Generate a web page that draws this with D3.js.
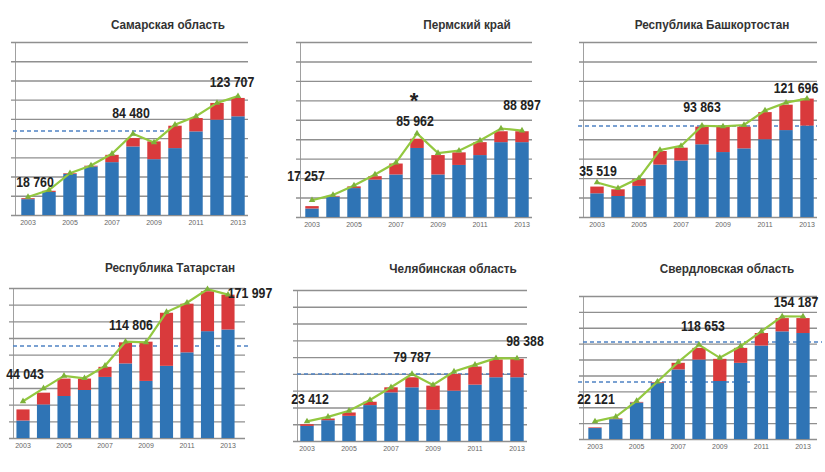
<!DOCTYPE html>
<html>
<head>
<meta charset="utf-8">
<script src="https://cdn.jsdelivr.net/npm/d3@7"></script>
<style>
  body { margin: 0; background: #fff; }
  svg { display: block; }
  text { font-family: "Liberation Sans Narrow", "Arial Narrow", "Liberation Sans", sans-serif; }
</style>
</head>
<body>
<div id="chart"></div>
<script>
// years on the x axis, every other one is labelled
var years = [2003, 2004, 2005, 2006, 2007, 2008, 2009, 2010, 2011, 2012, 2013];
var yearLabels = [2003, 2005, 2007, 2009, 2011, 2013];
var yMax = 180000, yStep = 20000;

var samaraBlue = [16500, 24000, 42800, 50500, 55000, 71300, 58100, 69600, 87000, 99200, 102700];
var samaraRed  = [1000, 1200, 700, 800, 7600, 8700, 18500, 23300, 13900, 17400, 19100];
var samaraLine = [18760, 26000, 43500, 51500, 63700, 84480, 75500, 94000, 102700, 116600, 123707];
var samaraDash = [87400];

var permBlue = [8750, 21000, 29750, 38500, 43750, 71000, 43750, 53550, 63700, 77000, 77000];
var permRed  = [2450, 700, 1750, 3500, 11250, 9500, 19950, 12950, 13300, 11200, 11200];
var permLine = [17257, 22750, 32500, 43750, 56000, 85962, 65800, 68250, 78750, 91000, 88897];
var permDash = [];

var bashBlue = [24400, 21600, 32000, 53900, 58100, 74800, 66800, 70600, 80000, 89400, 94000];
var bashRed  = [6900, 6900, 7000, 14000, 13200, 18100, 26100, 22300, 27900, 26100, 27800];
var bashLine = [35519, 29600, 40000, 68900, 73100, 93863, 93200, 94600, 109600, 117600, 121696];
var bashDash = [93600];

var tatBlue = [21000, 40300, 50400, 57600, 73300, 89500, 68500, 86600, 102800, 128200, 130200];
var tatRed  = [13300, 14100, 20900, 13700, 12100, 25300, 47100, 63700, 58400, 47900, 41800];
var tatLine = [44043, 59600, 74600, 71700, 86600, 115600, 114806, 151100, 162400, 178500, 171997];
var tatDash = [110400];

var chelBlue = [18000, 24800, 30000, 42800, 58000, 64000, 37200, 60000, 67200, 76000, 76000];
var chelRed  = [2000, 2000, 4000, 4000, 6000, 12000, 28800, 20000, 21600, 21200, 22000];
var chelLine = [23412, 28800, 36000, 48800, 64000, 79787, 66800, 82800, 90800, 98800, 98388];
var chelDash = [79900];

var sverBlue = [13800, 25000, 45900, 70900, 87600, 100000, 73000, 95900, 117600, 135500, 133400];
var sverRed  = [800, 900, 800, 800, 8300, 14700, 27900, 18800, 15800, 16700, 18800];
var sverLine = [22121, 27900, 48000, 72100, 96700, 118653, 102200, 116800, 135500, 154300, 154187];
var sverDash = [122100, 71700];

var fmt = d3.formatLocale({decimal: ",", thousands: " ", grouping: [3], currency: ["", ""]}).format(",d");

// layout of the six panels: grid extent, bar centres, title and label placement
var panels = [
  {title: "Самарская область", blue: samaraBlue, red: samaraRed, line: samaraLine, dash: samaraDash,
   gx: [15, 248], c: [28, 238], top: 42, bottom: 215, tx: 168, ty: 29,
   dashX: [[13, 178]], labels: [[0, 7, -10], [5, -2, -16], [10, -6, -9]]},
  {title: "Пермский край", blue: permBlue, red: permRed, line: permLine, dash: permDash,
   gx: [300, 532], c: [312, 522], top: 42, bottom: 217, tx: 467, ty: 29,
   dashX: [], labels: [[0, -6, -19], [5, -2, -7], [10, 0, -21]], star: 5},
  {title: "Республика Башкортостан", blue: bashBlue, red: bashRed, line: bashLine, dash: bashDash,
   gx: [583, 817], c: [597, 807], top: 42, bottom: 217, tx: 712, ty: 29,
   dashX: [[578, 817]], labels: [[0, 1, -6], [5, 0, -14], [10, -11, -6]]},
  {title: "Республика Татарстан", blue: tatBlue, red: tatRed, line: tatLine, dash: tatDash,
   gx: [13, 245], c: [23, 228], top: 288, bottom: 438, tx: 170, ty: 272,
   dashX: [[13, 250]], labels: [[0, 2, -22], [6, -15, -12], [10, 22, 3]]},
  {title: "Челябинская область", blue: chelBlue, red: chelRed, line: chelLine, dash: chelDash,
   gx: [297, 527], c: [307, 517], top: 290, bottom: 441, tx: 453, ty: 273,
   dashX: [[297, 527]], labels: [[0, 3, -17], [5, 0, -12], [10, 8, -12]]},
  {title: "Свердловская область", blue: sverBlue, red: sverRed, line: sverLine, dash: sverDash,
   gx: [583, 817], c: [595, 803], top: 296, bottom: 439, tx: 727, ty: 273,
   dashX: [[583, 822], [578, 753]], labels: [[0, 1, -17], [5, 4, -14], [10, -7, -10]]}
];

// narrow the text a little, the original uses a condensed face
var squeeze = function(sel, k) {
  sel.each(function() {
    var w = this.getComputedTextLength();
    d3.select(this).attr("textLength", w * k).attr("lengthAdjust", "spacingAndGlyphs");
  });
};

var svg = d3.select("#chart").append("svg")
  .attr("width", 825).attr("height", 472);

panels.forEach(function(p) {
  var n = years.length;
  var step = (p.c[1] - p.c[0]) / (n - 1);
  var x = d3.scaleBand()
    .domain(years)
    .range([p.c[0] - step / 2, p.c[1] + step / 2])
    .paddingInner(0.36)
    .paddingOuter(0.18);
  var y = d3.scaleLinear().domain([0, yMax]).range([p.bottom, p.top]);

  var g = svg.append("g");

  // gridlines + left axis
  var yAxis = d3.axisLeft(y)
    .tickValues(d3.range(0, yMax + 1, yStep))
    .tickSize(-(p.gx[1] - p.gx[0]))
    .tickFormat("");
  var ga = g.append("g")
    .attr("transform", "translate(" + p.gx[0] + ",0)")
    .call(yAxis);
  ga.select(".domain").attr("stroke", "#a0a0a0").attr("stroke-width", 1);
  ga.selectAll(".tick line")
    .attr("stroke", "#8f8f8f")
    .attr("stroke-width", 1.4)
    .attr("x1", -4);

  // dashed reference lines
  p.dash.forEach(function(v, i) {
    g.append("line")
      .attr("x1", p.dashX[i][0]).attr("x2", p.dashX[i][1])
      .attr("y1", y(v)).attr("y2", y(v))
      .attr("stroke", "#4f83c4")
      .attr("stroke-width", 1.5)
      .attr("stroke-dasharray", "4,3");
  });

  // stacked bars
  var rows = years.map(function(yr, i) {
    return {year: yr, blue: p.blue[i], red: p.red[i], line: p.line[i]};
  });
  g.selectAll("rect.blue").data(rows).enter().append("rect")
    .attr("class", "blue")
    .attr("x", function(d) { return x(d.year); })
    .attr("width", x.bandwidth())
    .attr("y", function(d) { return y(d.blue); })
    .attr("height", function(d) { return y(0) - y(d.blue); })
    .attr("fill", "#2f74b5");
  g.selectAll("rect.red").data(rows).enter().append("rect")
    .attr("class", "red")
    .attr("x", function(d) { return x(d.year); })
    .attr("width", x.bandwidth())
    .attr("y", function(d) { return y(d.blue + d.red); })
    .attr("height", function(d) { return y(d.blue) - y(d.blue + d.red); })
    .attr("fill", "#d93a3c");

  // total line
  var cx = function(d) { return x(d.year) + x.bandwidth() / 2; };
  g.append("path")
    .datum(rows)
    .attr("fill", "none")
    .attr("stroke", "#93c840")
    .attr("stroke-width", 2.2)
    .attr("d", d3.line().x(cx).y(function(d) { return y(d.line); }));
  g.selectAll("path.mk").data(rows).enter().append("path")
    .attr("class", "mk")
    .attr("d", d3.symbol().type(d3.symbolTriangle).size(18))
    .attr("transform", function(d) { return "translate(" + cx(d) + "," + y(d.line) + ")"; })
    .attr("fill", "#7db23a");

  // year labels
  var xAxis = d3.axisBottom(x).tickValues(yearLabels).tickSize(0).tickPadding(5);
  var gx = g.append("g")
    .attr("transform", "translate(0," + p.bottom + ")")
    .call(xAxis);
  gx.select(".domain").remove();
  gx.selectAll("text")
    .attr("font-size", 7)
    .attr("fill", "#666")
    .style("font-family", "'Liberation Sans Narrow', sans-serif");

  // title
  var t = g.append("text")
    .attr("x", p.tx).attr("y", p.ty)
    .attr("text-anchor", "middle")
    .attr("font-size", 12.5)
    .attr("font-weight", "bold")
    .attr("fill", "#333")
    .text(p.title);
  squeeze(t, 0.94);

  // value labels
  p.labels.forEach(function(l) {
    var d = rows[l[0]];
    var v = g.append("text")
      .attr("x", cx(d) + l[1])
      .attr("y", y(d.line) + l[2])
      .attr("text-anchor", "middle")
      .attr("font-size", 14)
      .attr("font-weight", "bold")
      .attr("fill", "#222")
      .text(fmt(d.line));
    squeeze(v, 0.88);
  });

  if (p.star !== undefined) {
    var d = rows[p.star];
    g.append("text")
      .attr("x", cx(d) - 3)
      .attr("y", y(d.line) - 25)
      .attr("text-anchor", "middle")
      .attr("font-size", 22)
      .attr("font-weight", "bold")
      .attr("fill", "#222")
      .text("*");
  }
});
</script>
</body>
</html>
